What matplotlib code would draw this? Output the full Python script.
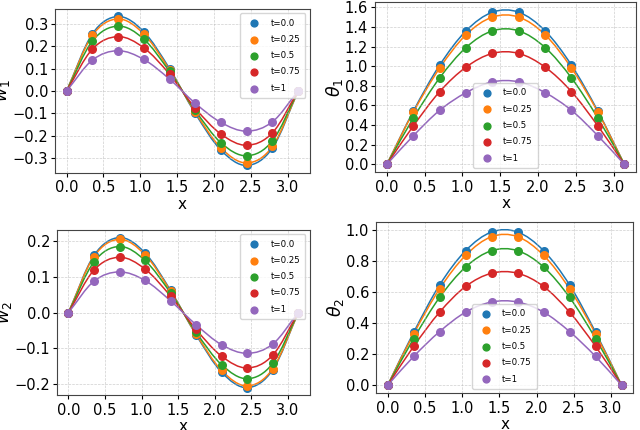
import numpy as np
from matplotlib import pyplot as plt
from matplotlib.path import Path
from matplotlib.patches import PathPatch

x = [0.0, 0.349, 0.698, 1.047, 1.396, 1.745, 2.094, 2.443, 2.793, 3.142]
times = ['t=0.0', 't=0.25', 't=0.5', 't=0.75', 't=1']
colors = ['#1f77b4', '#ff7f0e', '#2ca02c', '#d62728', '#9467bd']

w1 = [
    [0, 0.255, 0.333, 0.265, 0.100, -0.100, -0.265, -0.333, -0.255, 0],
    [0, 0.248, 0.322, 0.255, 0.095, -0.095, -0.255, -0.322, -0.248, 0],
    [0, 0.223, 0.290, 0.232, 0.087, -0.087, -0.232, -0.290, -0.223, 0],
    [0, 0.187, 0.243, 0.193, 0.075, -0.077, -0.193, -0.243, -0.187, 0],
    [0, 0.138, 0.180, 0.141, 0.053, -0.055, -0.141, -0.180, -0.138, 0],
]
theta1 = [
    [0, 0.54, 1.01, 1.36, 1.55, 1.55, 1.36, 1.01, 0.54, 0],
    [0, 0.53, 0.98, 1.32, 1.50, 1.50, 1.32, 0.98, 0.53, 0],
    [0, 0.47, 0.88, 1.19, 1.36, 1.36, 1.19, 0.88, 0.47, 0],
    [0, 0.39, 0.74, 0.99, 1.13, 1.13, 0.99, 0.74, 0.39, 0],
    [0, 0.29, 0.55, 0.73, 0.84, 0.84, 0.73, 0.55, 0.29, 0],
]
w2 = [
    [0, 0.160, 0.210, 0.167, 0.062, -0.062, -0.167, -0.210, -0.160, 0],
    [0, 0.157, 0.205, 0.162, 0.060, -0.060, -0.162, -0.205, -0.157, 0],
    [0, 0.142, 0.185, 0.146, 0.055, -0.055, -0.146, -0.185, -0.142, 0],
    [0, 0.119, 0.155, 0.122, 0.046, -0.047, -0.122, -0.155, -0.119, 0],
    [0, 0.088, 0.114, 0.090, 0.033, -0.034, -0.090, -0.114, -0.088, 0],
]
theta2 = [
    [0, 0.340, 0.645, 0.865, 0.985, 0.985, 0.865, 0.645, 0.340, 0],
    [0, 0.330, 0.620, 0.835, 0.955, 0.955, 0.835, 0.620, 0.330, 0],
    [0, 0.300, 0.565, 0.760, 0.865, 0.865, 0.760, 0.565, 0.300, 0],
    [0, 0.250, 0.470, 0.635, 0.720, 0.720, 0.635, 0.470, 0.250, 0],
    [0, 0.185, 0.345, 0.470, 0.535, 0.535, 0.470, 0.345, 0.185, 0],
]


def smooth_path(xs, ys):
    # catmull-rom through the points, drawn as bezier curves
    p = np.column_stack([xs, ys]).astype(float)
    p = np.vstack([2 * p[0] - p[1], p, 2 * p[-1] - p[-2]])
    verts = [p[1]]
    codes = [Path.MOVETO]
    for i in range(1, len(p) - 2):
        c1 = p[i] + (p[i + 1] - p[i - 1]) / 6
        c2 = p[i + 1] - (p[i + 2] - p[i]) / 6
        verts += [c1, c2, p[i + 1]]
        codes += [Path.CURVE4] * 3
    return Path(verts, codes)


def draw(ax, data, ylabel, loc):
    for ys, c in zip(data, colors):
        ax.add_patch(PathPatch(smooth_path(x, ys), fill=False, edgecolor=c, lw=1.1))
    for ys, c, lab in zip(data, colors, times):
        ax.scatter(x, ys, s=30, color=c, label=lab, zorder=3)
    ax.set_xticks([0.0, 0.5, 1.0, 1.5, 2.0, 2.5, 3.0])
    ax.tick_params(labelsize=10.5, length=3, pad=2.5)
    ax.tick_params(axis='y', pad=2)
    ax.grid(True, linestyle='--', linewidth=0.5, alpha=0.6)
    for s in ax.spines.values():
        s.set_edgecolor('#444444')
    ax.set_xlabel('x', fontsize=11, labelpad=1)
    ax.set_ylabel(ylabel, fontsize=12.5, labelpad=0)
    ax.legend(loc=loc, fontsize=6.2, labelspacing=0.85, handletextpad=0.9,
              borderpad=0.6, markerscale=0.9)


fig = plt.figure(figsize=(6.4, 4.3), dpi=100)
ax1 = fig.add_axes([0.086, 0.598, 0.398, 0.381])
ax2 = fig.add_axes([0.586, 0.600, 0.408, 0.395])
ax3 = fig.add_axes([0.089, 0.081, 0.395, 0.384])
ax4 = fig.add_axes([0.5875, 0.086, 0.402, 0.398])

draw(ax1, w1, '$w_1$', 'upper right')
draw(ax2, theta1, r'$\theta_1$', 'lower center')
draw(ax3, w2, '$w_2$', 'upper right')
draw(ax4, theta2, r'$\theta_2$', 'lower center')

ax1.set_yticks([-0.3, -0.2, -0.1, 0.0, 0.1, 0.2, 0.3])
ax2.set_yticks([0.0, 0.2, 0.4, 0.6, 0.8, 1.0, 1.2, 1.4, 1.6])
ax3.set_yticks([-0.2, -0.1, 0.0, 0.1, 0.2])
ax4.set_yticks([0.0, 0.2, 0.4, 0.6, 0.8, 1.0])

fig.savefig('out.png', dpi=100)
